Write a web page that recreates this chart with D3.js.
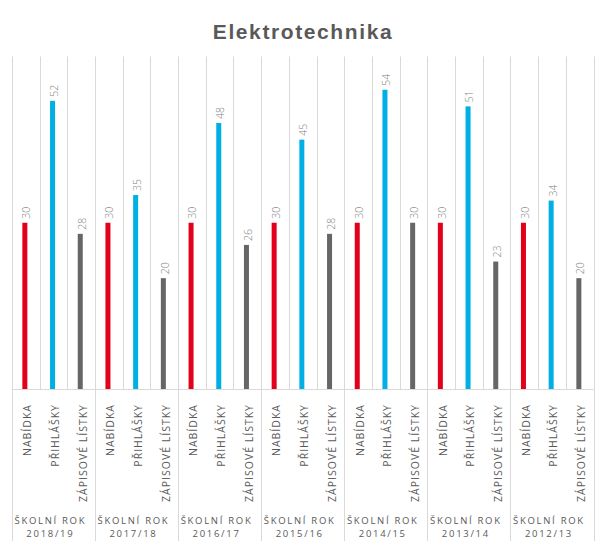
<!DOCTYPE html>
<html><head><meta charset="utf-8">
<script src="https://cdn.jsdelivr.net/npm/d3@7"></script>
<style>body{margin:0;background:#fff}svg{display:block}</style>
</head><body>
<svg id="c" width="605" height="553"></svg>
<script>
const title = "Elektrotechnika";
const years = ["2018/19","2017/18","2016/17","2015/16","2014/15","2013/14","2012/13"];
const metrics = ["NABÍDKA","PŘIHLÁŠKY","ZÁPISOVÉ LÍSTKY"];
const nabidka =   [30,30,30,30,30,30,30];
const prihlasky = [52,35,48,45,54,51,34];
const zapisove =  [28,20,26,28,30,23,20];
const seriesColors = ["#E2001A","#00B0E4","#666666"];
const yMax = 60;

const series = [nabidka, prihlasky, zapisove];
const data = [];
years.forEach((y,gi)=>metrics.forEach((m,mi)=>data.push({key:gi+"-"+mi, year:y, gi, mi, metric:m, value:series[mi][gi]})));

const svg = d3.select("#c");
const x = d3.scaleBand().domain(data.map(d=>d.key)).range([11.8,593.5]).padding(0);
const y = d3.scaleLinear().domain([0,yMax]).range([389,56.5]);
const bw = x.bandwidth();

svg.append("text").attr("x",303).attr("y",38.5).attr("text-anchor","middle")
  .style("font-family","Liberation Sans, Arial, sans-serif").style("font-weight","bold")
  .style("font-size","21px").style("letter-spacing","1.6px").attr("fill","#595959").text(title);

// gridlines at category boundaries
const bounds = d3.range(data.length+1);
svg.append("g").selectAll("line").data(bounds).join("line")
  .attr("x1",i=>Math.round(11.8+i*bw)+0.5).attr("x2",i=>Math.round(11.8+i*bw)+0.5)
  .attr("y1",y(yMax)).attr("y2",i=>i%3===0?541:y(0))
  .attr("stroke","#d9d9d9").attr("stroke-width",1);

// axis line
svg.append("line").attr("x1",x.range()[0]).attr("x2",x.range()[1]).attr("y1",y(0)+0.5).attr("y2",y(0)+0.5)
  .attr("stroke","#d9d9d9");

// bars
svg.append("g").selectAll("rect").data(data).join("rect")
  .attr("x",d=>x(d.key)+bw/2-2.5-0.8).attr("width",5)
  .attr("y",d=>y(d.value)).attr("height",d=>y(0)-y(d.value))
  .attr("fill",d=>seriesColors[d.mi]);

// value labels
svg.append("g").selectAll("text").data(data).join("text")
  .attr("transform",d=>`translate(${x(d.key)+bw/2+4.6},${y(d.value)-4}) rotate(-90)`)
  .attr("text-anchor","start")
  .style("font-family","Open Sans, sans-serif").style("font-weight","300")
  .style("font-size","10.5px").attr("fill","#7f7f7f").text(d=>d.value);

// category labels
svg.append("g").selectAll("text").data(data).join("text")
  .attr("transform",d=>`translate(${x(d.key)+bw/2+5.5},404) rotate(-90)`)
  .attr("text-anchor","end")
  .style("font-family","Open Sans, sans-serif")
  .style("font-size","10.5px").style("letter-spacing","1px").attr("fill","#595959").text(d=>d.metric);

// group labels
const g = svg.append("g").selectAll("g").data(years).join("g")
  .attr("transform",(d,i)=>`translate(${(x(i+"-0")+x(i+"-2")+bw)/2-3},0)`);
g.append("text").attr("y",523.5).attr("text-anchor","middle")
  .style("font-family","Open Sans, sans-serif").style("font-size","9.5px").style("letter-spacing","1.7px")
  .attr("fill","#595959").text("ŠKOLNÍ ROK");
g.append("text").attr("y",537).attr("text-anchor","middle")
  .style("font-family","Open Sans, sans-serif").style("font-size","9.5px").style("letter-spacing","1.7px")
  .attr("fill","#595959").text(d=>d);
</script>
</body></html>
